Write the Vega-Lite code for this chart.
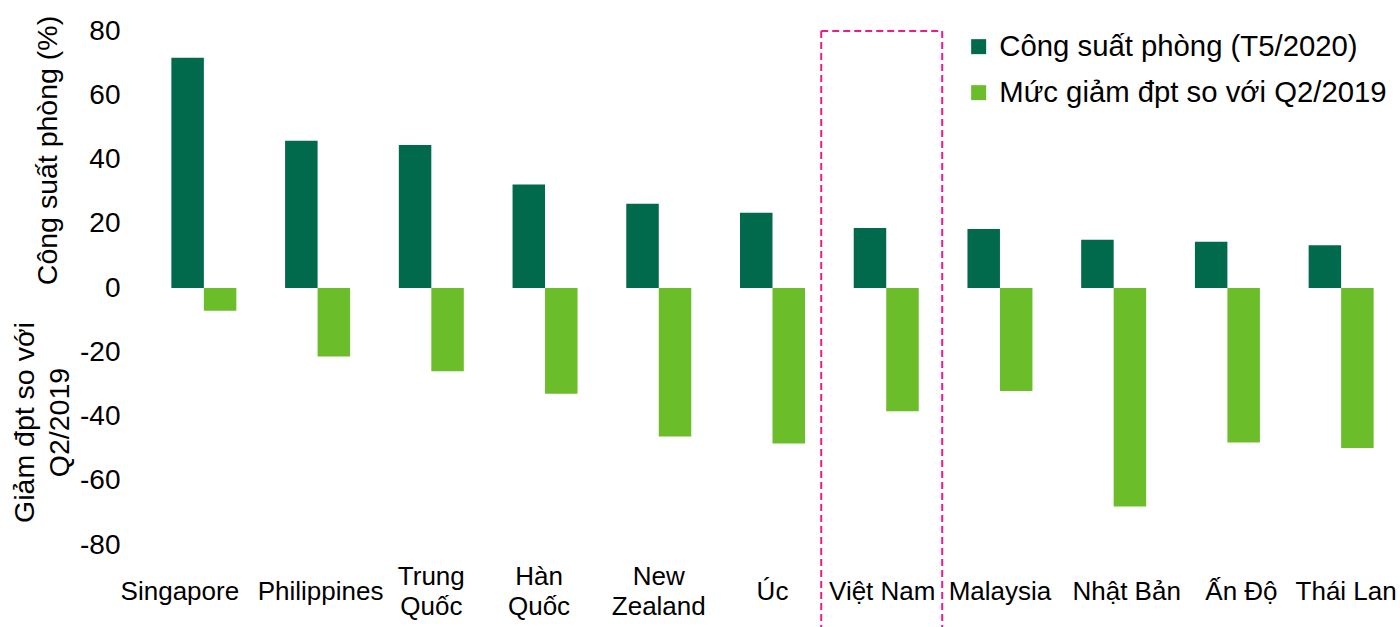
{
  "$schema": "https://vega.github.io/schema/vega-lite/v6.json",
  "width": 1251,
  "height": 514,
  "autosize": {"type": "none"},
  "padding": {"left": 147, "top": 31, "right": 2, "bottom": 82},
  "background": "white",
  "config": {
    "view": {"stroke": null},
    "font": "Liberation Sans",
    "axis": {"grid": false, "domain": false, "ticks": false, "tickSize": 0, "labelColor": "#000000", "titleColor": "#000000", "titleFontWeight": "normal"}
  },
  "datasets": {
    "rooms": [
      {"country": "Singapore", "series": "Công suất phòng (T5/2020)", "value": 71.7},
      {"country": "Singapore", "series": "Mức giảm đpt so với Q2/2019", "value": -7.1},
      {"country": "Philippines", "series": "Công suất phòng (T5/2020)", "value": 45.8},
      {"country": "Philippines", "series": "Mức giảm đpt so với Q2/2019", "value": -21.3},
      {"country": "Trung Quốc", "series": "Công suất phòng (T5/2020)", "value": 44.5},
      {"country": "Trung Quốc", "series": "Mức giảm đpt so với Q2/2019", "value": -25.9},
      {"country": "Hàn Quốc", "series": "Công suất phòng (T5/2020)", "value": 32.2},
      {"country": "Hàn Quốc", "series": "Mức giảm đpt so với Q2/2019", "value": -32.9},
      {"country": "New Zealand", "series": "Công suất phòng (T5/2020)", "value": 26.2},
      {"country": "New Zealand", "series": "Mức giảm đpt so với Q2/2019", "value": -46.2},
      {"country": "Úc", "series": "Công suất phòng (T5/2020)", "value": 23.4},
      {"country": "Úc", "series": "Mức giảm đpt so với Q2/2019", "value": -48.4},
      {"country": "Việt Nam", "series": "Công suất phòng (T5/2020)", "value": 18.7},
      {"country": "Việt Nam", "series": "Mức giảm đpt so với Q2/2019", "value": -38.4},
      {"country": "Malaysia", "series": "Công suất phòng (T5/2020)", "value": 18.4},
      {"country": "Malaysia", "series": "Mức giảm đpt so với Q2/2019", "value": -32.1},
      {"country": "Nhật Bản", "series": "Công suất phòng (T5/2020)", "value": 15.0},
      {"country": "Nhật Bản", "series": "Mức giảm đpt so với Q2/2019", "value": -68.0},
      {"country": "Ấn Độ", "series": "Công suất phòng (T5/2020)", "value": 14.4},
      {"country": "Ấn Độ", "series": "Mức giảm đpt so với Q2/2019", "value": -48.1},
      {"country": "Thái Lan", "series": "Công suất phòng (T5/2020)", "value": 13.3},
      {"country": "Thái Lan", "series": "Mức giảm đpt so với Q2/2019", "value": -49.8}
    ],
    "highlight": [
      {"country": "Việt Nam", "top": 80, "bottom": -106}
    ]
  },
  "layer": [
    {
      "data": {"name": "rooms"},
      "mark": {"type": "bar"},
      "encoding": {
        "x": {
          "field": "country",
          "type": "nominal",
          "sort": null,
          "scale": {
            "domain": ["Singapore", "Philippines", "Trung Quốc", "Hàn Quốc", "New Zealand", "Úc", "Việt Nam", "Malaysia", "Nhật Bản", "Ấn Độ", "Thái Lan"],
            "paddingInner": 0,
            "paddingOuter": 0
          },
          "axis": {
            "title": null,
            "labelAngle": 0,
            "labelFontSize": 26,
            "labelLineHeight": 30,
            "labelBaseline": "middle",
            "labelLimit": 0,
            "labelExpr": "(datum.value === 'Trung Quốc' || datum.value === 'Hàn Quốc' || datum.value === 'New Zealand') ? split(datum.value, ' ') : datum.value",
            "labelPadding": {
              "condition": {"test": "datum.value === 'Trung Quốc' || datum.value === 'Hàn Quốc' || datum.value === 'New Zealand'", "value": 31},
              "value": 46
            },
            "labelOffset": {
              "condition": [
                {"test": "datum.value === 'Singapore'", "value": -24},
                {"test": "datum.value === 'Philippines'", "value": 3},
                {"test": "datum.value === 'Hàn Quốc'", "value": -6},
                {"test": "datum.value === 'Việt Nam'", "value": -4},
                {"test": "datum.value === 'Nhật Bản'", "value": 13},
                {"test": "datum.value === 'Ấn Độ'", "value": 14},
                {"test": "datum.value === 'Thái Lan'", "value": 5}
              ],
              "value": 0
            }
          }
        },
        "xOffset": {
          "field": "series",
          "type": "nominal",
          "scale": {
            "domain": ["Công suất phòng (T5/2020)", "Mức giảm đpt so với Q2/2019"],
            "paddingInner": 0,
            "paddingOuter": 0.75
          }
        },
        "y": {
          "field": "value",
          "type": "quantitative",
          "scale": {"domain": [-80, 80], "nice": false},
          "axis": {
            "values": [-80, -60, -40, -20, 0, 20, 40, 60, 80],
            "labelExpr": "'' + datum.value",
            "labelFontSize": 28,
            "labelPadding": 27,
            "title": "Công suất phòng (%)",
            "titleFontSize": 28.5,
            "titleAngle": -90,
            "titleAlign": "center",
            "titleBaseline": "middle",
            "titleX": -100,
            "titleY": 119
          }
        },
        "color": {
          "field": "series",
          "type": "nominal",
          "scale": {
            "domain": ["Công suất phòng (T5/2020)", "Mức giảm đpt so với Q2/2019"],
            "range": ["#016A4C", "#6BBE2A"]
          },
          "legend": {
            "title": null,
            "orient": "none",
            "legendX": 817,
            "legendY": 1,
            "padding": 0,
            "symbolType": "square",
            "symbolSize": 225,
            "symbolStrokeWidth": 0,
            "labelFontSize": 29.3,
            "labelColor": "#000000",
            "labelOffset": 6,
            "labelLimit": 0,
            "rowPadding": 16
          }
        }
      }
    },
    {
      "data": {"name": "highlight"},
      "mark": {
        "type": "rect",
        "filled": false,
        "stroke": "#EC1C8E",
        "strokeWidth": 2,
        "strokeDash": [7, 4],
        "width": 121,
        "xOffset": -4.5
      },
      "encoding": {
        "x": {"field": "country", "type": "nominal"},
        "y": {
          "field": "top",
          "type": "quantitative",
          "axis": {
            "orient": "left",
            "labels": false,
            "title": ["Giảm đpt so với", "Q2/2019"],
            "titleFontSize": 28.5,
            "titleLineHeight": 35,
            "titleAngle": -90,
            "titleAlign": "center",
            "titleBaseline": "middle",
            "titleX": -123,
            "titleY": 391
          }
        },
        "y2": {"field": "bottom"}
      }
    }
  ],
  "resolve": {"axis": {"y": "independent"}}
}
